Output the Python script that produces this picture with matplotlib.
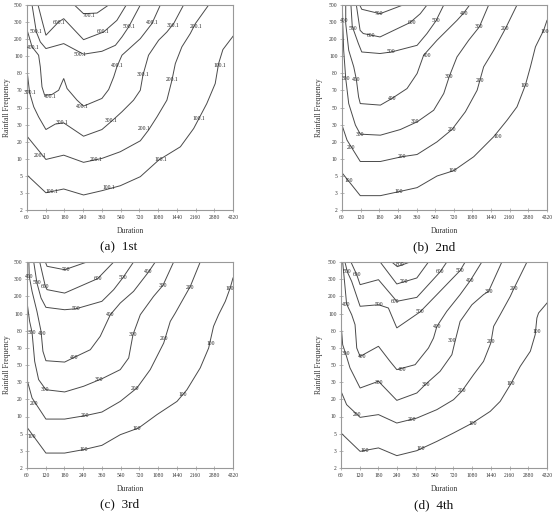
import matplotlib
matplotlib.use("Agg")
import matplotlib.pyplot as plt

durations = ["60", "120", "180", "240", "360", "540", "720", "1080", "1440", "2160", "2880", "4320"]
frequencies = ["2", "3", "5", "10", "20", "30", "50", "70", "80", "100", "200", "300", "500"]

# Contour lines: level -> (x positions, y positions) in category-index units
A_LINES = {
    "100.1": ([0, 1.01, 1.96, 3.02, 4.0, 4.98, 6.05, 7.03, 8.19, 8.9, 9.6, 10.05, 10.23, 10.46, 11.0],
              [2.05, 1.01, 1.23, 0.88, 1.13, 1.42, 1.95, 2.92, 3.70, 4.77, 6.23, 7.40, 8.57, 9.39, 10.17]),
    "200.1": ([0, 1.01, 1.96, 3.02, 4.0, 4.98, 6.05, 6.49, 6.94, 7.47, 7.74, 7.92, 8.27, 8.72, 8.99, 9.70],
              [4.32, 2.96, 3.21, 2.79, 3.02, 3.41, 4.05, 4.68, 5.45, 6.43, 7.60, 8.57, 9.55, 10.33, 10.91, 12]),
    "300.1": ([0, 0.14, 0.36, 0.62, 1.01, 1.51, 1.96, 3.02, 4.0, 4.54, 5.07, 5.69, 6.05, 6.19, 6.49, 7.03, 7.47, 7.83, 8.36],
              [8.18, 6.86, 6.04, 5.45, 4.71, 5.03, 5.10, 4.32, 4.71, 5.22, 5.75, 6.43, 7.01, 7.89, 9.06, 9.94, 10.42, 10.91, 12]),
    "400.1": ([0, 0.27, 0.62, 0.71, 0.80, 0.94, 1.33, 1.69, 1.96, 2.14, 2.67, 3.02, 4.0, 4.36, 4.63, 4.80, 5.07, 6.05, 6.67, 7.12],
              [10.56, 9.55, 9.06, 8.38, 7.21, 6.72, 6.76, 7.01, 7.70, 7.11, 6.43, 6.08, 6.53, 7.05, 7.79, 8.38, 9.06, 10.03, 10.91, 12]),
    "500.1": ([0.27, 0.50, 0.71, 1.01, 1.96, 3.02, 4.0, 4.72, 5.07, 5.43, 6.05],
              [12, 10.42, 9.84, 9.45, 9.74, 9.12, 9.29, 9.64, 10.13, 10.72, 12]),
    "600.1": ([0.59, 0.80, 1.01, 1.69, 1.96, 3.02, 4.09, 4.80, 5.30],
              [12, 11.10, 10.23, 11.01, 11.20, 9.97, 10.42, 11.10, 12]),
    "700.1": ([2.53, 3.02, 3.74, 4.36],
              [12, 11.49, 11.53, 12]),
}
A_LABELS = {
    "100.1": [(1.33, 1.07), (4.36, 1.31), (7.12, 2.96), (9.2, 5.36), (10.32, 8.45)],
    "200.1": [(0.71, 3.21), (3.70, 2.96), (6.26, 4.77), (7.74, 7.66), (9.04, 10.75)],
    "300.1": [(0.14, 6.86), (1.87, 5.10), (4.50, 5.22), (6.19, 7.95), (7.78, 10.81)],
    "400.1": [(0.32, 9.49), (1.25, 6.62), (2.94, 6.08), (4.80, 8.44), (6.67, 11.0)],
    "500.1": [(0.50, 10.42), (2.85, 9.12), (5.43, 10.72)],
    "600.1": [(1.69, 11.0), (4.06, 10.42)],
    "700.1": [(3.29, 11.4)],
}

B_LINES = {
    "100": ([0, 0.98, 2.06, 3.04, 4.03, 5.10, 5.99, 7.07, 8.14, 8.86, 9.39, 9.84, 10.11, 10.38, 10.82, 11.0],
            [2.18, 0.84, 0.84, 1.07, 1.31, 1.99, 2.30, 3.12, 4.29, 5.26, 6.04, 7.31, 8.38, 9.55, 10.52, 11.1]),
    "200": ([0, 0.27, 0.98, 2.06, 3.22, 4.03, 5.10, 5.90, 6.62, 7.25, 7.60, 8.14, 8.77, 9.39],
            [4.97, 4.09, 2.84, 2.84, 3.12, 3.25, 3.99, 4.71, 5.75, 7.01, 8.38, 9.35, 10.62, 12]),
    "300": ([0.02, 0.04, 0.09, 0.20, 0.36, 0.72, 0.98, 2.06, 3.13, 4.03, 4.92, 5.46, 5.76, 6.17, 6.80, 7.37, 7.87],
            [12, 10.91, 9.35, 7.70, 6.23, 4.97, 4.44, 4.38, 4.71, 5.16, 5.84, 6.82, 7.83, 8.96, 9.94, 10.72, 12]),
    "400": ([0.20, 0.20, 0.36, 0.63, 0.77, 0.89, 0.98, 2.06, 2.68, 3.49, 4.03, 4.38, 5.10, 6.17, 6.53, 6.85],
            [12, 10.91, 9.35, 8.38, 7.64, 6.62, 6.23, 6.14, 6.53, 7.11, 7.99, 9.06, 9.94, 11.10, 11.53, 12]),
    "500": ([0.48, 0.55, 0.88, 1.06, 2.04, 2.65, 4.03, 4.56, 5.04, 5.46],
            [12, 10.75, 9.74, 9.25, 9.16, 9.25, 9.64, 10.33, 11.07, 12]),
    "600": ([0.77, 0.97, 1.14, 2.04, 3.65, 4.20, 4.56],
            [12, 10.52, 10.33, 10.13, 10.97, 11.49, 12]),
    "700": ([0.95, 1.06, 2.04, 3.27],
            [12, 11.75, 11.49, 12]),
}
B_LABELS = {
    "100": [(0.36, 1.75), (3.04, 1.07), (5.96, 2.30), (8.35, 4.32), (9.80, 7.31), (10.88, 10.46)],
    "200": [(0.48, 3.64), (3.22, 3.12), (5.90, 4.71), (7.42, 7.60), (8.73, 10.62)],
    "300": [(0.21, 7.70), (0.98, 4.42), (3.94, 5.16), (5.76, 7.83), (7.37, 10.72)],
    "400": [(0.13, 11.1), (0.77, 7.64), (2.68, 6.53), (4.56, 9.06), (6.53, 11.53)],
    "500": [(0.60, 10.6), (2.65, 9.25), (5.04, 11.07)],
    "600": [(1.55, 10.24), (3.76, 10.97)],
    "700": [(2.0, 11.49)],
}

C_LINES = {
    "100": ([0, 1.01, 2.01, 3.02, 4.0, 4.98, 5.96, 6.94, 8.01, 8.54, 9.25, 9.70, 9.96, 10.23, 10.59, 10.85, 11.0],
            [2.37, 0.87, 0.87, 1.07, 1.32, 1.94, 2.33, 3.11, 3.88, 4.56, 5.83, 6.99, 8.25, 8.93, 9.71, 10.49, 11.07]),
    "200": ([0, 0.27, 1.01, 2.01, 3.11, 4.0, 4.98, 5.87, 6.58, 7.30, 7.65, 7.92, 8.27, 8.72, 9.25],
            [5.15, 4.08, 2.85, 2.85, 3.05, 3.26, 3.88, 4.66, 5.73, 7.28, 8.54, 9.03, 9.71, 10.58, 12]),
    "300": ([0, 0.02, 0.14, 0.27, 0.41, 0.62, 1.01, 2.01, 3.02, 4.0, 4.98, 5.43, 5.66, 6.05, 6.76, 7.26, 7.83],
            [11.84, 9.51, 8.54, 7.90, 6.21, 5.15, 4.56, 4.43, 4.76, 5.20, 5.73, 6.41, 7.77, 8.93, 10.0, 10.64, 12]),
    "400": ([0.10, 0.12, 0.27, 0.53, 0.75, 0.85, 1.01, 2.01, 2.53, 3.38, 3.91, 4.45, 4.98, 5.69, 6.49, 6.85],
            [12, 11.17, 10.29, 9.13, 7.96, 6.80, 6.25, 6.17, 6.45, 6.89, 7.67, 8.93, 9.61, 10.29, 11.42, 12]),
    "500": ([0.36, 0.53, 0.75, 1.01, 2.01, 2.63, 4.0, 4.63, 5.11, 5.69],
            [12, 10.78, 9.90, 9.36, 9.22, 9.28, 9.71, 10.39, 11.07, 12]),
    "600": ([0.68, 0.98, 1.07, 2.01, 3.77, 4.63],
            [12, 10.58, 10.39, 10.19, 11.03, 12]),
    "700": ([0.98, 1.07, 2.01, 3.20],
            [12, 11.75, 11.55, 12]),
}
C_LABELS = {
    "100": [(0.27, 1.84), (3.02, 1.07), (5.87, 2.31), (8.33, 4.31), (9.79, 7.28), (10.82, 10.45)],
    "200": [(0.39, 3.75), (3.11, 3.05), (5.78, 4.66), (7.33, 7.53), (8.72, 10.54)],
    "300": [(0.27, 7.90), (0.98, 4.60), (3.83, 5.15), (5.66, 7.77), (7.26, 10.64)],
    "400": [(0.12, 11.17), (0.80, 7.86), (2.53, 6.45), (4.45, 8.93), (6.49, 11.42)],
    "500": [(0.53, 10.78), (2.63, 9.28), (5.11, 11.07)],
    "600": [(0.98, 10.58), (3.77, 11.03)],
    "700": [(2.05, 11.55)],
}

D_LINES = {
    "100": ([0, 1.02, 2.0, 2.98, 4.05, 5.12, 6.01, 7.02, 7.97, 8.50, 9.04, 9.57, 10.11, 10.37, 10.46, 10.55, 11.0],
            [2.04, 0.97, 1.17, 0.72, 1.01, 1.55, 2.04, 2.62, 3.30, 3.88, 4.85, 5.92, 6.80, 7.77, 8.74, 9.03, 9.61]),
    "200": ([0, 0.30, 1.02, 2.0, 2.98, 4.05, 5.12, 6.01, 6.45, 7.08, 7.61, 8.0, 8.15, 8.50, 9.04, 9.22, 9.93],
            [4.47, 3.69, 2.95, 3.11, 2.62, 2.91, 3.40, 3.98, 4.47, 5.44, 6.21, 7.28, 8.25, 8.93, 10.0, 10.43, 12]),
    "300": ([0, 0.09, 0.25, 0.48, 1.02, 2.0, 2.98, 4.05, 4.53, 5.29, 5.92, 6.10, 6.36, 6.99, 7.61, 7.88, 8.59],
            [8.45, 7.18, 6.66, 5.83, 4.66, 5.05, 3.94, 4.37, 4.89, 5.63, 6.60, 7.42, 8.54, 9.51, 10.10, 10.29, 12]),
    "400": ([0.09, 0.30, 0.57, 0.75, 0.84, 1.02, 2.0, 2.62, 2.98, 3.96, 4.67, 4.94, 5.12, 5.65, 6.36, 6.90, 7.52],
            [12, 9.55, 8.93, 8.35, 6.99, 6.50, 7.09, 6.21, 5.73, 6.02, 6.99, 7.57, 8.25, 9.13, 10.10, 10.91, 12]),
    "500": ([0.21, 0.34, 0.57, 1.02, 2.0, 2.53, 2.98, 4.22, 5.12, 6.36, 6.63],
            [12, 11.42, 10.87, 9.42, 9.51, 9.32, 8.16, 9.09, 10.10, 11.50, 12]),
    "600": ([0.53, 0.84, 1.02, 2.0, 2.98, 4.05, 5.29, 5.65],
            [12, 11.26, 10.68, 10.97, 9.71, 9.94, 11.42, 12]),
    "700": ([2.09, 2.98, 4.05, 4.67],
            [12, 10.72, 11.07, 12]),
    "800": ([2.71, 3.01, 3.69],
            [12, 11.73, 12]),
}
D_LABELS = {
    "100": [(1.28, 1.01), (4.26, 1.11), (7.02, 2.62), (9.04, 4.95), (10.46, 7.96)],
    "200": [(0.87, 3.11), (3.81, 2.82), (6.45, 4.50), (8.0, 7.34), (9.22, 10.43)],
    "300": [(0.25, 6.66), (2.05, 4.99), (4.53, 4.89), (5.92, 7.42), (7.88, 10.29)],
    "400": [(0.30, 9.55), (1.11, 6.47), (3.24, 5.73), (5.12, 8.25), (6.90, 10.91)],
    "500": [(0.34, 11.42), (2.05, 9.51), (4.22, 9.09), (6.36, 11.50)],
    "600": [(0.84, 11.26), (2.87, 9.67), (5.29, 11.42)],
    "700": [(3.33, 10.87)],
    "800": [(3.16, 11.84)],
}

W, H = 559, 519
fig = plt.figure(figsize=(W / 100, H / 100), dpi=100)
plt.rcParams["font.family"] = ["Liberation Serif", "DejaVu Serif"]

panels = [
    (A_LINES, A_LABELS, (27, 5, 233, 210), "(a)  1st", (119, 247), 7),
    (B_LINES, B_LABELS, (342, 5, 547, 210), "(b)  2nd", (434, 247), 319),
    (C_LINES, C_LABELS, (27, 262, 233, 468), "(c)  3rd", (120, 504), 7),
    (D_LINES, D_LABELS, (341, 262, 547, 468), "(d)  4th", (434, 505), 319),
]

line_color = "#4a4a4a"
frame_color = "#999999"
for lines, labels, (x0, y0, x1, y1), caption, (cx, cy), ylx in panels:
    ax = fig.add_axes([x0 / W, 1 - y1 / H, (x1 - x0) / W, (y1 - y0) / H])
    for lev, (xs, ys) in lines.items():
        ax.plot(xs, ys, color=line_color, lw=0.7, solid_joinstyle="miter", clip_on=True)
        for (lx, ly) in labels.get(lev, []):
            ax.text(lx, ly, lev, fontsize=4, ha="center", va="center", color="#222222")
    ax.set_xlim(0, len(durations) - 1)
    ax.set_ylim(0, len(frequencies) - 1)
    ax.set_xticks(range(len(durations)))
    ax.set_xticklabels(durations, fontsize=4, color="#333333")
    ax.set_yticks(range(len(frequencies)))
    ax.set_yticklabels(frequencies, fontsize=4, color="#333333")
    ax.tick_params(direction="inout", length=2.5, width=0.5, color=frame_color, pad=2)
    for s in ax.spines.values():
        s.set_color(frame_color)
        s.set_linewidth(0.8)
    fig.text((x0 + x1) / 2 / W, 1 - (y1 + 21) / H, "Duration", fontsize=5.5, ha="center", va="center", color="#333333")
    fig.text(ylx / W, 1 - (y0 + y1) / 2 / H, "Rainfall Frequency", fontsize=5.5, rotation=90,
             ha="center", va="center", color="#333333")
    fig.text(cx / W, 1 - cy / H, caption, fontsize=9.5, ha="center", va="center", color="#111111")

fig.savefig("out.png", dpi=100)
